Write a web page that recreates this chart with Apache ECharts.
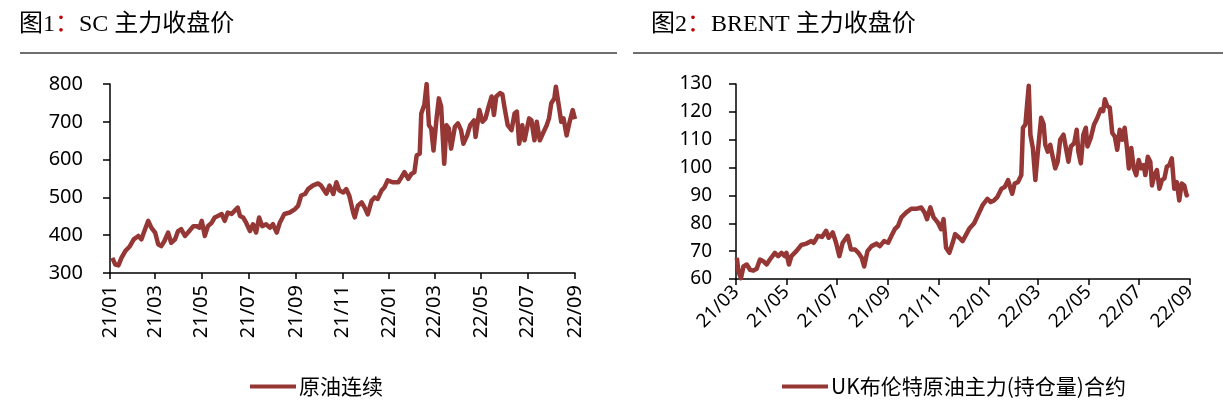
<!DOCTYPE html>
<html>
<head>
<meta charset="utf-8">
<script src="https://cdn.jsdelivr.net/npm/echarts@6/dist/echarts.min.js"></script>
<style>
html,body{margin:0;padding:0;background:#fff;}
#chart{width:1223px;height:402px;}
</style>
</head>
<body>
<div id="chart"></div>
<script>
// ---- Chart 1: SC 主力收盘价 ----
const scDates = ['2021-01-04','2021-01-08','2021-01-12','2021-01-16','2021-01-21','2021-01-27','2021-02-01','2021-02-07','2021-02-11','2021-02-15','2021-02-20','2021-02-24','2021-03-01','2021-03-05','2021-03-09','2021-03-13','2021-03-18','2021-03-22','2021-03-27','2021-03-31','2021-04-04','2021-04-09','2021-04-13','2021-04-20','2021-04-24','2021-04-28','2021-05-01','2021-05-05','2021-05-09','2021-05-14','2021-05-18','2021-05-22','2021-05-27','2021-05-31','2021-06-04','2021-06-09','2021-06-13','2021-06-17','2021-06-20','2021-06-24','2021-06-28','2021-07-03','2021-07-07','2021-07-11','2021-07-15','2021-07-19','2021-07-24','2021-07-29','2021-08-02','2021-08-07','2021-08-11','2021-08-17','2021-08-24','2021-08-31','2021-09-04','2021-09-08','2021-09-13','2021-09-17','2021-09-23','2021-09-30','2021-10-04','2021-10-11','2021-10-15','2021-10-20','2021-10-24','2021-10-28','2021-11-02','2021-11-06','2021-11-10','2021-11-15','2021-11-17','2021-11-21','2021-11-26','2021-11-30','2021-12-04','2021-12-09','2021-12-13','2021-12-17','2021-12-22','2021-12-26','2021-12-30','2022-01-06','2022-01-13','2022-01-17','2022-01-21','2022-01-26','2022-01-30','2022-02-03','2022-02-06','2022-02-10','2022-02-12','2022-02-16','2022-02-19','2022-02-22','2022-02-25','2022-02-28','2022-03-04','2022-03-07','2022-03-10','2022-03-14','2022-03-17','2022-03-20','2022-03-23','2022-03-28','2022-04-01','2022-04-05','2022-04-08','2022-04-13','2022-04-17','2022-04-22','2022-04-24','2022-04-29','2022-05-03','2022-05-07','2022-05-11','2022-05-15','2022-05-18','2022-05-21','2022-05-26','2022-05-29','2022-06-01','2022-06-05','2022-06-10','2022-06-14','2022-06-17','2022-06-20','2022-06-24','2022-06-27','2022-07-03','2022-07-06','2022-07-10','2022-07-13','2022-07-17','2022-07-21','2022-07-26','2022-07-29','2022-08-01','2022-08-05','2022-08-07','2022-08-11','2022-08-14','2022-08-17','2022-08-21','2022-08-25','2022-08-29','2022-09-01'];
const scValues = [340,322,320,340,358,371,389,398,389,411,438,420,407,376,371,384,407,380,389,411,416,398,407,424,424,420,438,398,424,433,447,451,456,438,460,456,465,473,451,447,433,411,429,407,447,424,429,420,429,407,433,456,460,469,478,505,509,522,531,537,531,510,531,509,540,518,513,522,504,460,447,478,487,473,455,491,500,496,518,527,545,540,540,553,567,549,562,567,611,616,722,745,800,691,682,624,709,762,740,589,691,682,629,687,696,678,642,664,691,704,660,731,700,709,740,767,718,767,776,773,736,691,678,722,727,642,691,651,709,704,651,700,651,669,691,709,749,762,793,740,700,709,664,700,731,707];
const scTicks = ['2021-01-01','2021-03-01','2021-05-01','2021-07-01','2021-09-01','2021-11-01','2022-01-01','2022-03-01','2022-05-01','2022-07-01','2022-09-01'];

// ---- Chart 2: BRENT 主力收盘价 ----
const brentDates = ['2021-03-02','2021-03-04','2021-03-07','2021-03-10','2021-03-14','2021-03-18','2021-03-22','2021-03-26','2021-03-30','2021-04-03','2021-04-07','2021-04-11','2021-04-17','2021-04-21','2021-04-25','2021-04-29','2021-05-01','2021-05-04','2021-05-07','2021-05-13','2021-05-19','2021-05-25','2021-05-31','2021-06-03','2021-06-08','2021-06-13','2021-06-18','2021-06-21','2021-06-26','2021-06-30','2021-07-04','2021-07-08','2021-07-14','2021-07-18','2021-07-23','2021-07-27','2021-07-31','2021-08-03','2021-08-07','2021-08-12','2021-08-18','2021-08-22','2021-08-27','2021-09-01','2021-09-05','2021-09-09','2021-09-13','2021-09-17','2021-09-23','2021-09-29','2021-10-05','2021-10-11','2021-10-15','2021-10-18','2021-10-22','2021-10-26','2021-10-31','2021-11-04','2021-11-07','2021-11-10','2021-11-14','2021-11-18','2021-11-21','2021-11-26','2021-11-30','2021-12-08','2021-12-14','2021-12-24','2021-12-30','2022-01-03','2022-01-07','2022-01-11','2022-01-16','2022-01-20','2022-01-24','2022-01-27','2022-01-29','2022-02-01','2022-02-05','2022-02-09','2022-02-11','2022-02-14','2022-02-16','2022-02-18','2022-02-20','2022-02-23','2022-02-26','2022-03-01','2022-03-05','2022-03-08','2022-03-10','2022-03-13','2022-03-16','2022-03-19','2022-03-22','2022-03-25','2022-03-28','2022-04-01','2022-04-04','2022-04-07','2022-04-10','2022-04-14','2022-04-17','2022-04-19','2022-04-22','2022-04-25','2022-04-28','2022-04-30','2022-05-04','2022-05-08','2022-05-12','2022-05-16','2022-05-19','2022-05-21','2022-05-24','2022-05-27','2022-05-30','2022-06-02','2022-06-05','2022-06-08','2022-06-11','2022-06-14','2022-06-17','2022-06-19','2022-06-22','2022-06-25','2022-06-28','2022-07-01','2022-07-04','2022-07-07','2022-07-09','2022-07-12','2022-07-15','2022-07-17','2022-07-20','2022-07-23','2022-07-26','2022-07-29','2022-08-01','2022-08-04','2022-08-07','2022-08-10','2022-08-13','2022-08-16','2022-08-19','2022-08-22','2022-08-25','2022-08-28','2022-08-29'];
const brentValues = [67.6,62.7,60.3,64.5,65.2,63.3,63,63.7,67,66.4,65.2,67,69.4,68.2,69.4,68.2,69.4,65.2,68.2,70,72.2,72.7,73.6,73,75.5,75.1,77.3,74.8,76.7,73,68.2,73,75.5,70.6,70.6,69.4,67.6,64.5,70,71.8,72.7,71.8,73.6,73,75.5,77.9,79.1,82.1,83.9,85.2,85.2,85.7,83.9,81.5,85.7,82.1,80.3,77.9,81.5,71.2,69.4,73,76.1,74.8,73.6,78,80,86.4,88.8,87.6,88.2,89.4,92.4,93,95.5,92.4,90.6,94.3,94.8,97.3,114.3,115.5,122.7,129.4,111.8,107,95.5,105.7,117.9,115.5,108.2,105.7,108.2,103.9,99.7,102.1,110,111.8,107,102.1,107.6,108.8,113.6,105.7,101.5,111.8,114.3,107.6,110.6,115.5,117.9,120.9,120.3,124.5,122.1,121.5,112.4,111.2,106.4,113.6,110,114.3,106.4,99.7,107,99.7,97.3,102.7,99.7,100.9,97.3,103.9,102.1,93.6,97.3,99.1,92.4,95.5,96.1,100.3,100.9,103.3,92.4,94.8,88.2,94.3,93.6,90,90.6];
const brentTicks = ['2021-03-01','2021-05-01','2021-07-01','2021-09-01','2021-11-01','2022-01-01','2022-03-01','2022-05-01','2022-07-01','2022-09-01'];

function ts(s){ const p = s.split('-').map(Number); return new Date(p[0], p[1]-1, p[2]).getTime(); }
function fmt(v){ const d = new Date(v); return String(d.getFullYear()).slice(2) + '/' + String(d.getMonth()+1).padStart(2,'0'); }
function pairs(ds, vs){ return ds.map((d,i)=>[ts(d), vs[i]]); }

const LINE = '#953735';
const AX = {color:'#000', width:1.5};
const LAB_FONT = "'Noto Sans', sans-serif";
const CJK = "'Noto Sans CJK SC', sans-serif";
const TITLE_FONT = "'Liberation Serif', 'Noto Sans CJK SC', serif";

function xAxisCfg(grid, ticks, rotate, margin, fs){
  const tv = ticks.map(ts);
  return {
    type:'value', gridIndex:grid, min:tv[0], max:tv[tv.length-1], scale:true,
    axisLine:{show:true, onZero:false, lineStyle:AX},
    axisTick:{show:true, customValues:tv, length:6, inside:false, lineStyle:AX},
    axisLabel:{customValues:tv, rotate:rotate, formatter:fmt, fontSize:fs, color:'#000', fontFamily:LAB_FONT, margin:margin, showMinLabel:true, showMaxLabel:true, hideOverlap:false},
    splitLine:{show:false}
  };
}
function yAxisCfg(grid, min, max, interval, margin, fs){
  return {
    type:'value', gridIndex:grid, min:min, max:max, interval:interval,
    axisLine:{show:true, lineStyle:AX},
    axisTick:{show:true, length:7, lineStyle:AX},
    axisLabel:{fontSize:fs, color:'#000', fontFamily:LAB_FONT, margin:margin},
    splitLine:{show:false}
  };
}
const titleRich = {
  a:{fontSize:24, color:'#000', fontFamily:TITLE_FONT, fontWeight:'normal'},
  r:{fontSize:24, color:'#c00000', fontFamily:TITLE_FONT, fontWeight:'normal'}
};

const chart = echarts.init(document.getElementById('chart'), null, {renderer:'canvas'});
chart.setOption({
  animation:false,
  backgroundColor:'#fff',
  title:[
    {text:'{a|图1}{r|：}{a|SC 主力收盘价}', left:19, top:13, padding:0,
     textStyle:{fontWeight:'normal', rich:titleRich}},
    {text:'{a|图2}{r|：}{a|BRENT 主力收盘价}', left:651, top:13, padding:0,
     textStyle:{fontWeight:'normal', rich:titleRich}}
  ],
  graphic:[
    {type:'line', shape:{x1:20, y1:53, x2:617, y2:53}, style:{stroke:'#6f6f6f', lineWidth:2}},
    {type:'line', shape:{x1:633, y1:53, x2:1223, y2:53}, style:{stroke:'#6f6f6f', lineWidth:2}}
  ],
  legend:[
    {data:['原油连续'], left:245, top:371, itemWidth:46, itemHeight:4, itemGap:4, icon:'rect',
     textStyle:{fontSize:21, color:'#000', fontFamily:CJK, padding:[0,0,0,-2]}},
    {data:['UK布伦特原油主力(持仓量)合约'], left:777, top:371, itemWidth:46, itemHeight:4, itemGap:4, icon:'rect',
     textStyle:{fontSize:21, color:'#000', fontFamily:CJK, padding:[0,0,0,-2]}}
  ],
  grid:[
    {left:110, top:84, width:465, height:189, containLabel:false},
    {left:736, top:84, width:454, height:195, containLabel:false}
  ],
  xAxis:[ xAxisCfg(0, scTicks, 90, 12, 20), xAxisCfg(1, brentTicks, 45, 10, 19) ],
  yAxis:[ yAxisCfg(0, 300, 800, 100, 27, 20), yAxisCfg(1, 60, 130, 10, 24, 19) ],
  series:[
    {name:'原油连续', type:'line', xAxisIndex:0, yAxisIndex:0, data:pairs(scDates, scValues),
     showSymbol:false, symbol:'none', lineStyle:{color:LINE, width:4.5, join:'round'}, itemStyle:{color:LINE}},
    {name:'UK布伦特原油主力(持仓量)合约', type:'line', xAxisIndex:1, yAxisIndex:1, data:pairs(brentDates, brentValues),
     showSymbol:false, symbol:'none', lineStyle:{color:LINE, width:4.5, join:'round'}, itemStyle:{color:LINE}}
  ]
});
</script>
</body>
</html>
